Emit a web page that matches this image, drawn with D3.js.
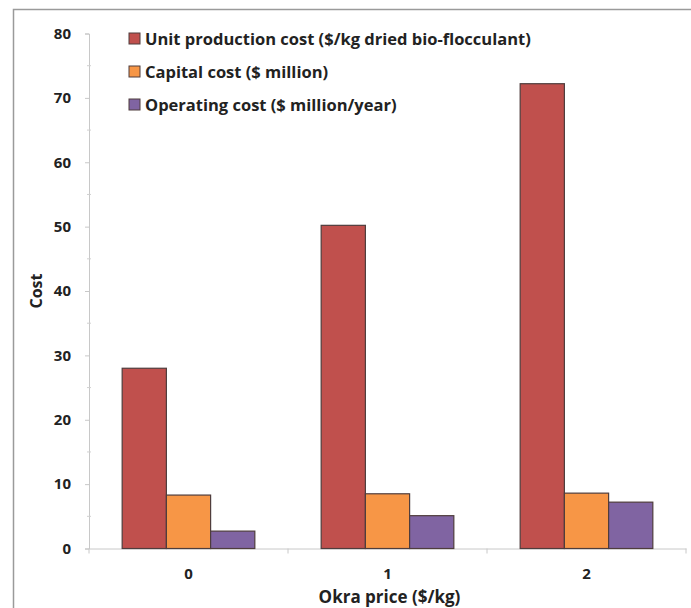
<!DOCTYPE html>
<html lang="en">
<head>
	<meta charset="utf-8">
	<title>Okra price cost chart</title>
	<script type="text/javascript" src="https://d3js.org/d3.v7.min.js"></script>
	<style type="text/css">
		body { margin: 0; background: #fff; }
		text { font-family: "Open Sans", sans-serif; font-weight: bold; fill: #222; }
	</style>
</head>
<body>
	<script type="text/javascript">
		// Chart data
		var categories = ["0", "1", "2"];
		var seriesNames = ["Unit production cost ($/kg dried bio-flocculant)", "Capital cost ($ million)", "Operating cost ($ million/year)"];
		var unitCost = [28.0, 50.2, 72.2];
		var capitalCost = [8.3, 8.5, 8.6];
		var operatingCost = [2.7, 5.1, 7.2];
		var yTicks = [0, 10, 20, 30, 40, 50, 60, 70, 80];
		var colors = ["#C0504D", "#F79646", "#8064A2"];

		var w = 691, h = 608;
		// plot area edges
		var plotLeft = 89, plotRight = 686, plotTop = 33.5, plotBottom = 548.5;

		var svg = d3.select("body").append("svg")
			.attr("width", w)
			.attr("height", h);

		// outer frame (only top/left edges visible)
		svg.append("rect")
			.attr("x", 13.5).attr("y", 9.5)
			.attr("width", 720).attr("height", 640)
			.attr("fill", "none")
			.attr("stroke", "#9a9a9a")
			.attr("stroke-width", 1.5);

		var x0 = d3.scaleBand().domain(categories).range([plotLeft, plotRight]);
		// gap width of 150% -> the bar group takes 3/4.5 of each band
		var x1 = d3.scaleBand().domain([0, 1, 2]).range([0, x0.bandwidth() * 3 / 4.5]);
		var y = d3.scaleLinear().domain([0, 80]).range([plotBottom, plotTop]);

		var series = [unitCost, capitalCost, operatingCost];

		// y axis
		var yAxis = svg.append("g").attr("transform", "translate(" + plotLeft + ",0)")
			.call(d3.axisLeft(y).tickValues(yTicks).tickSize(4).tickPadding(14));
		yAxis.select(".domain").attr("stroke", "#c8c8c8");
		yAxis.selectAll(".tick line").attr("stroke", "#c8c8c8");
		yAxis.selectAll(".tick text")
			.attr("font-size", "15px")
			.attr("font-family", "Open Sans, sans-serif")
			.attr("font-weight", "bold")
			.attr("fill", "#222");
		// minor ticks
		svg.selectAll("line.minor")
			.data(d3.range(5, 80, 10))
			.enter().append("line")
			.attr("class", "minor")
			.attr("x1", plotLeft - 2).attr("x2", plotLeft + 2)
			.attr("y1", function(d) { return y(d); })
			.attr("y2", function(d) { return y(d); })
			.attr("stroke", "#d0d0d0");

		// x axis
		var xAxis = svg.append("g").attr("transform", "translate(0," + plotBottom + ")")
			.call(d3.axisBottom(x0).tickSize(0).tickPadding(20));
		xAxis.select(".domain").attr("stroke", "#c8c8c8");
		xAxis.selectAll(".tick text")
			.attr("font-size", "15px")
			.attr("font-family", "Open Sans, sans-serif")
			.attr("font-weight", "bold")
			.attr("fill", "#222");
		svg.selectAll("line.xtick")
			.data(categories.concat(["end"]))
			.enter().append("line")
			.attr("class", "xtick")
			.attr("x1", function(d, i) { return plotLeft + i * x0.bandwidth(); })
			.attr("x2", function(d, i) { return plotLeft + i * x0.bandwidth(); })
			.attr("y1", plotBottom).attr("y2", plotBottom + 5)
			.attr("stroke", "#c8c8c8");

		// bars
		var groups = svg.selectAll("g.group")
			.data(categories)
			.enter().append("g")
			.attr("class", "group")
			.attr("transform", function(d) {
				return "translate(" + (x0(d) + x0.bandwidth() * 0.75 / 4.5) + ",0)";
			});

		groups.selectAll("rect")
			.data(function(d, i) { return series.map(function(s, j) { return { s: j, v: s[i] }; }); })
			.enter().append("rect")
			.attr("x", function(d) { return x1(d.s); })
			.attr("y", function(d) { return y(d.v); })
			.attr("width", x1.bandwidth())
			.attr("height", function(d) { return plotBottom - y(d.v); })
			.attr("fill", function(d) { return colors[d.s]; })
			.attr("stroke", "#4f3d3d")
			.attr("stroke-width", 1.2);

		// axis titles
		svg.append("text")
			.attr("x", (plotLeft + plotRight) / 2 + 2)
			.attr("y", 603)
			.attr("text-anchor", "middle")
			.attr("font-size", "17px")
			.text("Okra price ($/kg)");

		svg.append("text")
			.attr("transform", "translate(42," + ((plotTop + plotBottom) / 2) + ") rotate(-90)")
			.attr("text-anchor", "middle")
			.attr("font-size", "16px")
			.text("Cost");

		// legend
		var legend = svg.selectAll("g.legend")
			.data(seriesNames)
			.enter().append("g")
			.attr("class", "legend")
			.attr("transform", function(d, i) { return "translate(129," + (39 + i * 33) + ")"; });
		legend.append("rect")
			.attr("x", 0).attr("y", -6)
			.attr("width", 11).attr("height", 11)
			.attr("fill", function(d, i) { return colors[i]; })
			.attr("stroke", "#4f3d3d")
			.attr("stroke-width", 1);
		legend.append("text")
			.attr("x", 16).attr("y", 6)
			.attr("font-size", "16.5px")
			.text(function(d) { return d; });
	</script>
</body>
</html>
